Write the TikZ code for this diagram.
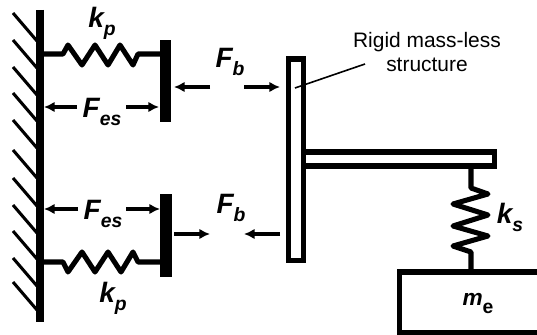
\documentclass[tikz,border=0pt]{standalone}
\usepackage{fontspec}
\setmainfont{Liberation Sans}
\usetikzlibrary{arrows.meta}
\newcommand{\subtxt}[1]{\raisebox{-6pt}{\fontsize{14.5}{16}\selectfont #1}}
\tikzset{
  thickline/.style = {line width=4.2pt},
  springline/.style = {line width=3.8pt, line join=round},
  force/.style = {line width=2.6pt, -{Latex[length=8pt,width=8pt]}},
  symbol/.style = {font=\fontsize{21}{24}\selectfont\bfseries\itshape, inner sep=0pt},
  hatch/.style = {line width=2.3pt}
}
\begin{document}
\begin{tikzpicture}[x=0.75pt, y=-0.75pt]
\useasboundingbox (0,0) rectangle (537,335);
% wall
\draw[line width=6pt] (39.5,10) -- (39.5,322);
\foreach \y in {13,40,67,93,120,150,178,205,231,258,282}
  \draw[hatch] (13,\y) -- (37,\y+28);
% upper spring and plate
\fill (160,40) rectangle (171,122);
\draw[springline] (43,54) -- (63,54) -- (68,45) -- (82,65) -- (95,45) -- (108,65) -- (120,45) -- (133,65) -- (138,54) -- (160,54);
\node[symbol] (kpupper) at (102,23) {k\subtxt{p}};
% lower spring and plate
\fill (160,194) rectangle (172,277);
\draw[springline] (43,262) -- (63,262) -- (68,272) -- (82,252) -- (95,272) -- (108,252) -- (121,272) -- (133,252) -- (138,262) -- (160,262);
\node[symbol] (kplower) at (113,298) {k\subtxt{p}};
% electrostatic forces
\node[symbol] (fesupper) at (102,112) {F\subtxt{es}};
\draw[force] (77,107) -- (44,107);
\draw[force] (126,107) -- (159,107);
\node[symbol] (feslower) at (103,214) {F\subtxt{es}};
\draw[force] (78,209) -- (44,209);
\draw[force] (126,209) -- (160,209);
% bumper forces
\node[symbol] (fbupper) at (230,62) {F\subtxt{b}};
\draw[force] (210,87) -- (174,87);
\draw[force] (244,87) -- (280,87);
\node[symbol] (fblower) at (231,208) {F\subtxt{b}};
\draw[force] (174,234) -- (210,234);
\draw[force] (280,234) -- (244,234);
% rigid structure
\draw[thickline] (288.5,59) rectangle (303.5,260.5);
\draw[thickline] (303.5,152) -- (494.5,152) -- (494.5,166) -- (303.5,166);
\node[font=\fontsize{15.7}{18.5}\selectfont, align=center, inner sep=0pt] (rigid) at (427,52) {Rigid mass-less\\structure};
\draw[line width=1.2pt] (365,64) -- (295,88);
% suspension and mass
\draw[springline] (471,168) -- (471,188) -- (488,194) -- (453,204) -- (488,215) -- (453,226) -- (488,236) -- (453,246) -- (471,252) -- (471,272);
\node[symbol] (ks) at (510,217) {k\subtxt{s}};
\draw[thickline] (537,272) -- (399.5,272) -- (399.5,333) -- (537,333);
\node[symbol, font=\fontsize{17}{20}\selectfont\bfseries\itshape] (me) at (478,304) {m\subtxt{\upshape e}};
\end{tikzpicture}
\end{document}
